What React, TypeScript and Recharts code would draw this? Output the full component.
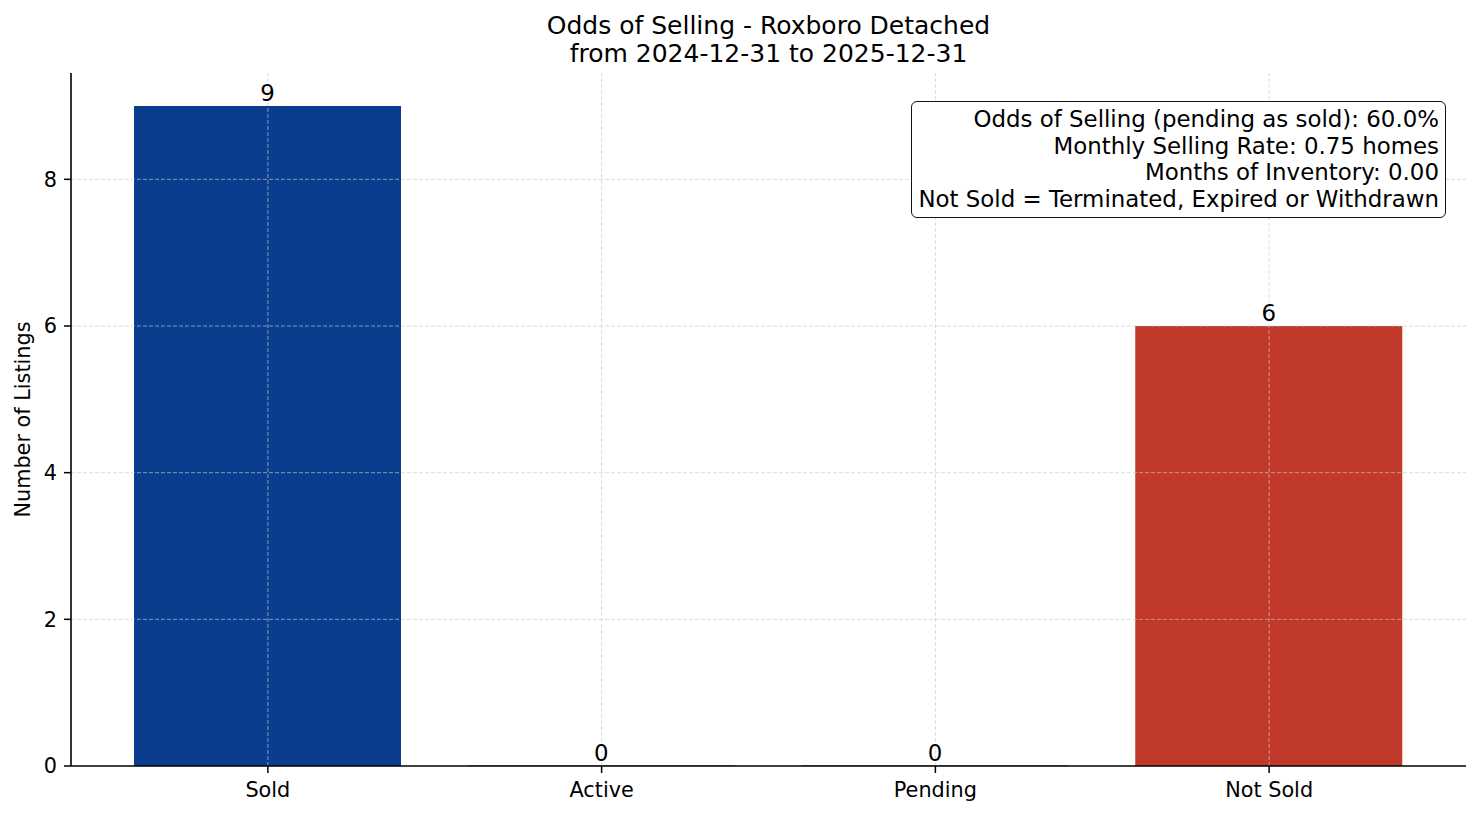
import { BarChart, Bar, XAxis, YAxis, Cell, LabelList, ReferenceLine } from 'recharts'

const categories = ['Sold', 'Active', 'Pending', 'Not Sold']
const listings = [9, 0, 0, 6]
const barColors = ['#0b3d8f', '#0b3d8f', '#0b3d8f', '#c0392b']
const yTicks = [0, 2, 4, 6, 8]
const titleLines = ['Odds of Selling - Roxboro Detached', 'from 2024-12-31 to 2025-12-31']
const noteLines = [
  'Odds of Selling (pending as sold): 60.0%',
  'Monthly Selling Rate: 0.75 homes',
  'Months of Inventory: 0.00',
  'Not Sold = Terminated, Expired or Withdrawn',
]

const data = categories.map((name, i) => ({ name, value: listings[i] }))

const FONT = '"DejaVu Sans", sans-serif'
const gridStyle = { stroke: '#c8c8c8', strokeDasharray: '4 2', strokeWidth: 0.8, strokeOpacity: 0.8 }

export default function App() {
  return (
    <div style={{ position: 'absolute', left: 0, top: 0, width: 1481, height: 816, background: '#fff', fontFamily: FONT }}>
      <div style={{ position: 'absolute', left: 71, width: 1395, top: 12, textAlign: 'center', fontSize: 25, lineHeight: '28px', color: '#000' }}>
        {titleLines.map((t) => (
          <div key={t}>{t}</div>
        ))}
      </div>
      <BarChart
        width={1481}
        height={816}
        data={data}
        margin={{ top: 73, right: 15, bottom: 0, left: 15 }}
        barSize={267}
      >
        <XAxis
          dataKey="name"
          height={50}
          padding={{ left: 30, right: 30 }}
          tick={{ fill: '#000', fontSize: 20.8, fontFamily: FONT }}
          tickLine={{ stroke: '#000', strokeWidth: 1.5 }}
          axisLine={{ stroke: '#000', strokeWidth: 1.6 }}
          tickSize={7}
          tickMargin={9}
        />
        <YAxis
          width={56}
          domain={[0, 9.45]}
          ticks={yTicks}
          allowDataOverflow
          tick={{ fill: '#000', fontSize: 20.8, fontFamily: FONT }}
          tickLine={{ stroke: '#000', strokeWidth: 1.5 }}
          axisLine={{ stroke: '#000', strokeWidth: 1.6 }}
          tickSize={7}
          tickMargin={7}
          label={{
            value: 'Number of Listings',
            angle: -90,
            position: 'insideLeft',
            offset: 8,
            style: { fill: '#000', fontSize: 20.8, fontFamily: FONT, textAnchor: 'middle' },
          }}
        />
        <Bar dataKey="value" isAnimationActive={false} minPointSize={0.5}>
          {data.map((d, i) => (
            <Cell key={d.name} fill={barColors[i]} />
          ))}
          <LabelList dataKey="value" position="top" offset={5} style={{ fill: '#000', fontSize: 22.9, fontFamily: FONT }} />
        </Bar>
        {yTicks.slice(1).map((t) => (
          <ReferenceLine key={`y${t}`} y={t} {...gridStyle} />
        ))}
        {categories.map((c) => (
          <ReferenceLine key={`x${c}`} x={c} {...gridStyle} />
        ))}
      </BarChart>
      <div
        style={{
          position: 'absolute',
          left: 911,
          top: 101,
          width: 535,
          height: 117,
          boxSizing: 'border-box',
          border: '1.7px solid #111',
          borderRadius: 6,
          background: '#fff',
          padding: '4px 6px 0 6px',
          textAlign: 'right',
          fontSize: 22.9,
          lineHeight: '26.6px',
          color: '#000',
          whiteSpace: 'nowrap',
        }}
      >
        {noteLines.map((t) => (
          <div key={t}>{t}</div>
        ))}
      </div>
    </div>
  )
}
